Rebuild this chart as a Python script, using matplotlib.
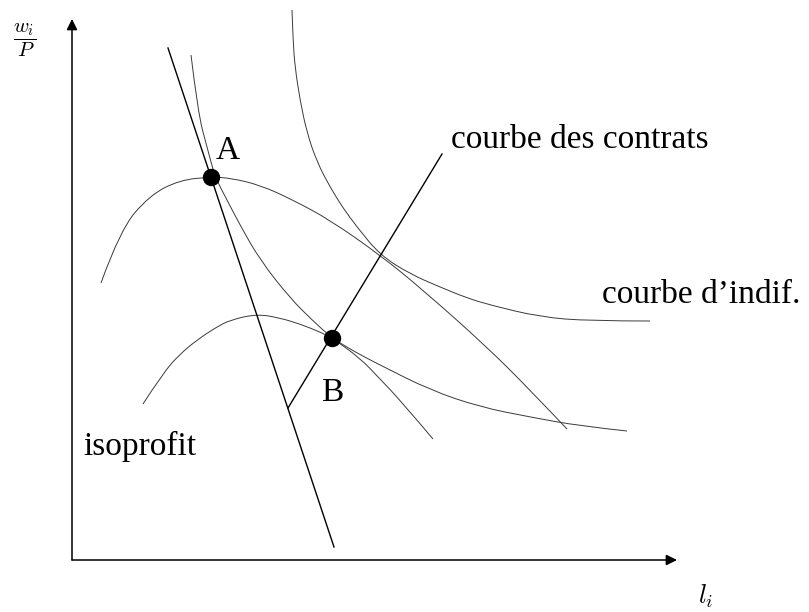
import matplotlib
matplotlib.use("Agg")
import matplotlib.pyplot as plt
from matplotlib.path import Path
from matplotlib.patches import PathPatch

# curves, in axis units (origin = corner of the two axes)
wage_line_x = [96, 262]
wage_line_y = [512, 13]

contract_x = [216, 370]
contract_y = [152, 406]

iso_hi_x = [29, 48, 78, 108, 139, 158, 188, 221, 258, 308, 351, 415, 458, 495]
iso_hi_y = [277, 330, 365, 380, 383, 382, 375, 360, 340, 305, 270, 213, 170, 131]

iso_lo_x = [71, 91, 108, 125, 143, 158, 185, 208, 228, 248, 260, 288, 308, 328, 361]
iso_lo_y = [156, 187, 206, 220, 232, 240, 246, 242, 236, 228, 222, 202, 181, 160, 121]

indif_hi_x = [220, 221, 223, 228, 235, 245, 258, 271, 285, 308, 338, 368, 395, 418, 468, 518, 578]
indif_hi_y = [550, 520, 493, 460, 427, 398, 373, 352, 333, 305, 286, 273, 262, 255, 243, 239, 239]

indif_lo_x = [119, 126, 135, 143, 155, 168, 188, 218, 240, 260, 283, 308, 358, 408, 458, 508, 555]
indif_lo_y = [505, 447, 413, 383, 360, 335, 300, 262, 240, 222, 208, 195, 170, 153, 143, 134, 129]

point_names = ["A", "B"]
point_x = [139, 260]
point_y = [383, 222]


def smooth(xs, ys):
    # read points used as quadratic control points, curve goes through the midpoints
    pts = list(zip(xs, ys))
    verts, codes = [pts[0]], [Path.MOVETO]
    for i in range(1, len(pts) - 1):
        nxt = pts[-1] if i == len(pts) - 2 else ((pts[i][0] + pts[i + 1][0]) / 2,
                                                  (pts[i][1] + pts[i + 1][1]) / 2)
        verts += [pts[i], nxt]
        codes += [Path.CURVE3, Path.CURVE3]
    return Path(verts, codes)


plt.rcParams["mathtext.fontset"] = "cm"
SERIF = "Liberation Serif"

fig = plt.figure(figsize=(8.09, 6.12), dpi=100)
ax = fig.add_axes([0, 0, 1, 1])
ax.set_xlim(-72, 737)
ax.set_ylim(-52, 560)
ax.axis("off")

# axes with arrow heads
arr = dict(arrowstyle="-|>", lw=1.1, color="black", mutation_scale=16, shrinkA=0, shrinkB=0)
ax.annotate("", xy=(605, 0), xytext=(0, 0), arrowprops=arr)
ax.annotate("", xy=(0, 541), xytext=(0, 0), arrowprops=arr)

for xs, ys in [(iso_hi_x, iso_hi_y), (iso_lo_x, iso_lo_y),
               (indif_hi_x, indif_hi_y), (indif_lo_x, indif_lo_y)]:
    ax.add_patch(PathPatch(smooth(xs, ys), fill=False, edgecolor="#3a3a3a", lw=0.7))

ax.plot(wage_line_x, wage_line_y, color="black", lw=1.0)
ax.plot(contract_x, contract_y, color="black", lw=1.0)

ax.plot(point_x, point_y, "o", color="black", markersize=11.5, zorder=5)

fs = 24
ax.text(156, 401, point_names[0], fontsize=fs, family=SERIF, ha="center", va="baseline")
ax.text(260, 159, point_names[1], fontsize=fs, family=SERIF, ha="center", va="baseline")
ax.text(379, 412, "courbe des contrats", fontsize=fs, family=SERIF, ha="left", va="baseline")
ax.text(530, 257, "courbe d\u2019indif.", fontsize=fs, family=SERIF, ha="left", va="baseline")
ax.text(11, 105, "isoprofit", fontsize=fs, family=SERIF, ha="left", va="baseline")

ax.text(-47, 520, r"$\dfrac{w_i}{P}$", fontsize=15, ha="center", va="center")
ax.text(634, -44, r"$l_i$", fontsize=19, ha="center", va="baseline")

fig.savefig("out.png", dpi=100)
